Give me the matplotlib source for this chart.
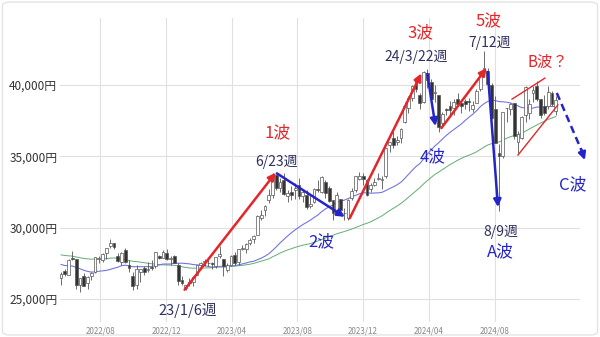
import matplotlib
matplotlib.use("Agg")
import matplotlib.pyplot as plt
import matplotlib.dates as mdates
from matplotlib.patches import FancyBboxPatch
from matplotlib.ticker import FuncFormatter
import pandas as pd

plt.rcParams['font.family'] = ['Noto Sans CJK JP', 'DejaVu Sans']

# weekly candles, first week ends 2022-05-20 (Friday)
first_week = "2022-05-20"

opens = [
    # 2022
    26500, 26950, 26700, 27900, 27800, 26000, 26600, 26100, 26600, 26900, 27800,
    27700, 28200, 28700, 28900, 28000, 27600, 28400, 27400, 26600, 26000, 26900,
    27200, 27000, 27200, 27300, 28000, 27900, 28200, 27800, 28000, 27400, 26300,
    # 2023
    25800, 26200, 26200, 26700, 27400, 27600, 27500, 27500, 27300, 28000, 27800,
    27000, 27400, 28100, 27600, 28500, 28500, 28900, 29200, 29500, 30700, 31200,
    31900, 32300, 33700, 32800, 33300, 32200, 32500, 32600, 33000, 32200, 32300,
    31500, 31800, 32700, 32500, 33200, 32800, 31900, 31100, 32000, 31000, 30700,
    32100, 32600, 33400, 33600, 33300, 32700, 33000, 33400,
    # 2024
    33300, 33600, 35800, 36300, 36000, 36300, 37400, 38400, 39100, 40300, 39300,
    38800, 40800, 40200, 39400, 39300, 37300, 38300, 38500, 38400, 39000, 38700,
    38900, 38900, 38300, 38700, 39700, 41000, 41000, 40000, 38300, 35250, 35000,
    38400, 38300, 38700, 36000, 36300, 37900, 38000, 39400, 39900, 39000, 38500,
    38500, 39400, 38200,
]
highs = [
    26900, 27100, 27800, 28390, 27800, 26500, 26800, 26600, 26900, 27950, 28000,
    28200, 28600, 29200, 28900, 28200, 28300, 28600, 27700, 26900, 27400, 27100,
    27300, 27600, 27700, 28300, 28100, 28400, 28500, 28000, 28100, 27500, 26600,
    26000, 26500, 26600, 27400, 27600, 27800, 27700, 27600, 27950, 28700, 27800,
    27500, 28100, 28300, 28500, 28800, 28900, 29300, 29500, 30900, 31200, 31600,
    32700, 33800, 33772, 33500, 33800, 32600, 32900, 33100, 33500, 32600, 32600,
    32300, 32800, 33300, 33600, 33300, 32900, 31900, 32500, 32000, 31400, 32000,
    32800, 33600, 33900, 33800, 33400, 33100, 33500, 33800,
    33600, 35600, 36000, 36900, 36400, 37000, 38800, 39200, 40000, 40500, 39400,
    41000, 41100, 40400, 40000, 39300, 38100, 38400, 38900, 39000, 39400, 38900,
    39000, 39100, 38900, 39700, 40900, 42400, 41200, 40100, 39200, 35880, 38100,
    38400, 38700, 38700, 36800, 37800, 39900, 39000, 39900, 40300, 39000, 39300,
    39900, 39600, 39200,
]
lows = [
    26000, 26600, 26700, 27700, 25700, 25500, 25900, 25700, 26300, 26800, 27500,
    27600, 27800, 28600, 28500, 27600, 27400, 27500, 26900, 25600, 25700, 26200,
    26700, 26900, 27000, 27200, 27800, 27900, 27700, 27400, 27500, 26000, 26000,
    25661, 25900, 25900, 26700, 27100, 27300, 27300, 27100, 27200, 27900, 26600,
    26900, 27300, 27400, 27400, 28400, 28200, 28800, 28900, 29500, 30500, 30800,
    31700, 32100, 32600, 32500, 32300, 31800, 31900, 32000, 32000, 31800, 31300,
    31400, 31700, 32500, 32400, 32100, 31800, 30500, 31000, 31200, 30500, 30500,
    31900, 32500, 33300, 33000, 32200, 32500, 32900, 33300,
    32700, 33500, 35300, 35600, 35800, 35900, 37300, 38000, 38900, 39500, 38300,
    38700, 39800, 38600, 38800, 36700, 37100, 37900, 37800, 37900, 38500, 38000,
    38300, 38200, 38100, 38700, 39600, 40900, 40000, 37600, 35900, 31156, 34900,
    37400, 37900, 36200, 35200, 36200, 37400, 37600, 38800, 38900, 37700, 37900,
    38300, 38500, 37900,
]
closes = [
    26739, 26781, 27761, 27824, 25963, 26491, 25935, 26517, 26788, 27914, 27801,
    28175, 28546, 28930, 28641, 27650, 28214, 27567, 27153, 25937, 27116, 27090,
    26890, 27105, 27199, 28263, 27899, 28283, 27777, 27901, 27527, 26235, 26094,
    25973, 26119, 26553, 27382, 27509, 27670, 27513, 27453, 27927, 28143, 27333,
    27385, 28041, 27518, 28493, 28564, 28856, 29157, 29388, 30808, 30916, 31524,
    32265, 33706, 32781, 33189, 32388, 32391, 32304, 32759, 32192, 32473, 31450,
    31624, 32710, 32606, 33533, 32402, 31857, 30994, 32315, 31259, 30991, 31950,
    32568, 33585, 33625, 33431, 32307, 32970, 33169, 33464,
    33377, 35577, 35963, 35751, 36158, 36897, 38487, 39098, 39910, 39688, 38707,
    40888, 40369, 38992, 39523, 37068, 37934, 38236, 38229, 38787, 38646, 38487,
    38683, 38814, 38596, 39583, 40912, 41190, 40063, 37667, 35909, 35025, 38062,
    38364, 38647, 36391, 36581, 37723, 39829, 38635, 39605, 38981, 37913, 38053,
    39500, 38642, 38950,
]
# 52 weekly closes before the first candle, only for the moving averages
warmup_closes = [
    28317, 29149, 28941, 28948, 28964, 29066, 28783, 27940, 28003, 27548, 27283,
    27820, 27977, 27013, 27641, 29128, 30381, 30500, 30248, 28771, 28049, 29068,
    28805, 28892, 29611, 29609, 29745, 28751, 28029, 28437, 28545, 28782, 28791,
    28478, 28124, 27522, 26717, 27439, 27696, 27122, 26476, 25985, 25162, 26827,
    28149, 27665, 26985, 27093, 27105, 26847, 27003, 26427,
]
tick_months = ["2022-08-01", "2022-12-01", "2023-04-01", "2023-08-01",
               "2023-12-01", "2024-04-01", "2024-08-01"]

weeks = pd.date_range(first_week, periods=len(closes), freq="W-FRI")
all_closes = pd.Series(warmup_closes + closes)
ma26 = all_closes.rolling(26).mean().iloc[len(warmup_closes):].values
ma52 = all_closes.rolling(52).mean().iloc[len(warmup_closes):].values

RED = "#e3262a"
BLUE = "#2424c8"
NAVY = "#2f3160"

fig = plt.figure(figsize=(6, 3.37), dpi=100)
fig.patches.append(FancyBboxPatch((0.004, 0.006), 0.992, 0.988,
                                  boxstyle="round,pad=0,rounding_size=0.012",
                                  transform=fig.transFigure, fc="white",
                                  ec="#e4e4e4", lw=1.0, zorder=-10))
ax = fig.add_axes([60 / 600, 15 / 337, 520 / 600, 304 / 337])
ax.set_facecolor("none")

ax.plot(weeks, ma52, color="#62ad72", lw=0.7, zorder=2)
ax.plot(weeks, ma26, color="#7474e2", lw=0.8, zorder=2)

for d, o, h, l, c in zip(weeks, opens, highs, lows, closes):
    ax.vlines(d, l, h, color="#555555", lw=0.6, zorder=3)
    up = c >= o
    ax.bar(d, max(abs(c - o), 40), bottom=min(o, c), width=5.2,
           color="white" if up else "#333333",
           edgecolor="#555555", lw=0.5, zorder=4)

ax.set_xlim(pd.Timestamp("2022-05-18"), pd.Timestamp("2025-01-06"))
ax.set_ylim(23390, 44680)
ax.set_yticks([25000, 30000, 35000, 40000])
ax.yaxis.set_major_formatter(FuncFormatter(lambda v, p: f"{v:,.0f}円"))
ax.set_xticks(pd.to_datetime(tick_months))
ax.xaxis.set_major_formatter(mdates.DateFormatter("%Y/%m"))
ax.tick_params(axis="y", length=0, pad=2, labelsize=8.5, labelcolor="#333333")
ax.tick_params(axis="x", length=0, pad=3, labelsize=5.8, labelcolor="#8a8a8a")
ax.grid(True, color="#e0e0e0", lw=0.8, zorder=0)
ax.set_axisbelow(True)
for s in ax.spines.values():
    s.set_visible(False)


def wave(start, end, color, ls="-"):
    ax.annotate("", xy=(pd.Timestamp(end[0]), end[1]),
                xytext=(pd.Timestamp(start[0]), start[1]),
                arrowprops=dict(arrowstyle="-|>", color=color, lw=1.8,
                                mutation_scale=11, shrinkA=0, shrinkB=0, ls=ls),
                annotation_clip=False, zorder=6)


wave(("2023-01-04", 25650), ("2023-06-22", 33850), RED)
wave(("2023-06-24", 33800), ("2023-10-28", 30750), BLUE)
wave(("2023-11-06", 30650), ("2024-03-18", 40800), RED)
wave(("2024-03-29", 40760), ("2024-04-13", 37110), BLUE)
wave(("2024-04-24", 36970), ("2024-07-17", 41180), RED)
wave(("2024-07-19", 40900), ("2024-08-07", 31440), BLUE)

# B wave channel
ax.plot([pd.Timestamp("2024-09-02"), pd.Timestamp("2024-11-02")], [39000, 40470],
        color=RED, lw=1.0, zorder=6)
ax.plot([pd.Timestamp("2024-09-13"), pd.Timestamp("2024-11-26")], [35080, 38590],
        color=RED, lw=1.0, zorder=6)

# C wave (dashed)
ax.plot([pd.Timestamp("2024-11-24"), pd.Timestamp("2025-01-10")], [39430, 35300],
        color=BLUE, lw=1.8, ls=(0, (3, 1.8)), zorder=6, clip_on=False)
wave(("2025-01-08", 35500), ("2025-01-15", 34730), BLUE)

labels = [
    ("1波", "2023-06-25", 36630, RED, 12),
    ("6/23週", "2023-06-23", 34600, NAVY, 10),
    ("2波", "2023-09-15", 28990, BLUE, 12),
    ("23/1/6週", "2023-01-10", 24230, NAVY, 10.5),
    ("3波", "2024-03-17", 43630, RED, 12),
    ("24/3/22週", "2024-03-09", 41950, NAVY, 10),
    ("4波", "2024-04-08", 34940, BLUE, 12),
    ("5波", "2024-07-21", 44470, RED, 12),
    ("7/12週", "2024-07-22", 42930, NAVY, 10),
    ("B波？", "2024-11-08", 41600, RED, 11),
    ("C波", "2024-12-24", 32980, BLUE, 12),
    ("8/9週", "2024-08-13", 29690, NAVY, 10),
    ("A波", "2024-08-11", 28290, BLUE, 12),
]
for txt, d, y, col, fs in labels:
    ax.text(pd.Timestamp(d), y, txt, color=col, fontsize=fs, ha="center",
            va="center", zorder=7, clip_on=False)

fig.savefig("out.png", dpi=100)
